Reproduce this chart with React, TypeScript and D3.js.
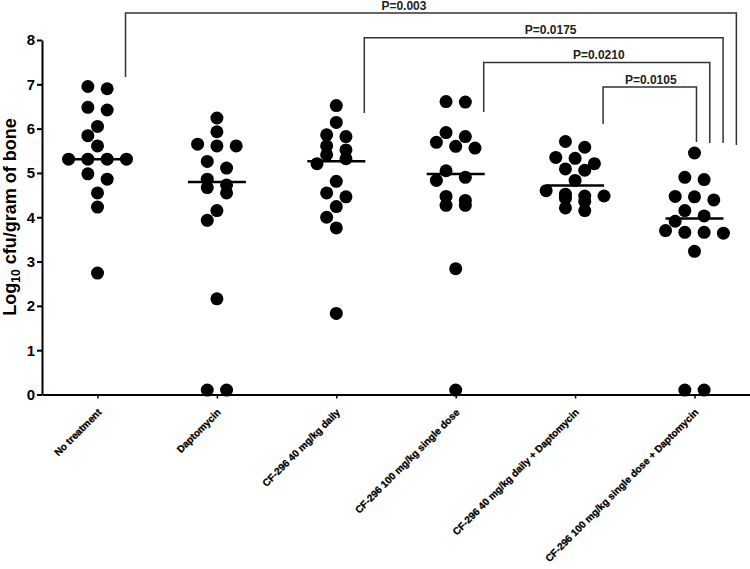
import React, { useEffect, useRef } from "react";
import * as d3 from "d3";

// group names (x axis)
const groups = [
  "No treatment",
  "Daptomycin",
  "CF-296 40 mg/kg daily",
  "CF-296 100 mg/kg single dose",
  "CF-296 40 mg/kg daily + Daptomycin",
  "CF-296 100 mg/kg single dose + Daptomycin",
];

// log10 cfu / gram of bone, one array per group
const noTreatment = [6.95, 6.9, 6.48, 6.42, 6.05, 5.84, 5.61, 5.31, 5.31, 5.31, 5.31, 4.98, 4.86, 4.55, 4.23, 2.74];
const daptomycin = [6.24, 5.93, 5.65, 5.61, 5.61, 5.26, 5.11, 4.86, 4.73, 4.67, 4.55, 4.15, 3.93, 2.16, 0.1, 0.1];
const cf40Daily = [6.52, 6.14, 5.86, 5.82, 5.61, 5.52, 5.41, 5.32, 5.21, 4.81, 4.55, 4.46, 4.24, 4.0, 3.76, 1.83];
const cf100Single = [6.61, 6.6, 5.91, 5.82, 5.69, 5.6, 5.56, 5.05, 4.9, 4.83, 4.47, 4.38, 4.27, 4.27, 2.84, 0.1];
const cf40DailyDapto = [5.71, 5.58, 5.35, 5.33, 5.21, 5.09, 5.06, 4.83, 4.6, 4.52, 4.48, 4.48, 4.43, 4.36, 4.21, 4.15];
const cf100SingleDapto = [5.45, 4.9, 4.85, 4.47, 4.46, 4.39, 4.15, 4.03, 3.91, 3.7, 3.66, 3.66, 3.64, 3.23, 0.1, 0.1];

const seriesValues = [noTreatment, daptomycin, cf40Daily, cf100Single, cf40DailyDapto, cf100SingleDapto];

const yTicks = [0, 1, 2, 3, 4, 5, 6, 7, 8];

// significance brackets (group index -> group index)
const comparisons = [
  { from: 0, to: 5, label: "P=0.003" },
  { from: 2, to: 5, label: "P=0.0175" },
  { from: 3, to: 5, label: "P=0.0210" },
  { from: 4, to: 5, label: "P=0.0105" },
];

const FONT = "'Liberation Sans', Arial, Helvetica, sans-serif";
const R = 6.5;

// simple column-scatter layout: points with nearly equal values sit in one row
function swarm(values: number[], y: (v: number) => number, spacing: number) {
  const sorted = [...values].sort((a, b) => b - a);
  const placed: { v: number; dx: number }[] = [];
  let i = 0;
  while (i < sorted.length) {
    const row = [sorted[i]];
    let j = i + 1;
    while (j < sorted.length && y(sorted[j]) - y(sorted[i]) <= 7) {
      row.push(sorted[j]);
      j++;
    }
    if (row.length > 1) {
      row.forEach((v, k) => placed.push({ v, dx: (k - (row.length - 1) / 2) * spacing }));
    } else {
      const v = row[0];
      const h = spacing / 2;
      const cands = [0, -h, h, -2 * h, 2 * h, -3 * h, 3 * h];
      let dx = 0;
      for (const c of cands) {
        const hit = placed.some((p) => Math.hypot(p.dx - c, y(p.v) - y(v)) < 11.5);
        if (!hit) { dx = c; break; }
      }
      placed.push({ v, dx });
    }
    i = j;
  }
  return placed;
}

export default function App() {
  const ref = useRef<SVGSVGElement>(null);

  useEffect(() => {
    const svg = d3.select(ref.current);
    svg.selectAll("*").remove();

    const y = d3.scaleLinear().domain([0, 8]).range([394.5, 40]);
    const x = d3.scalePoint<string>().domain(groups).range([42, 750]).padding(0.465);

    // y axis
    const gy = svg.append("g")
      .attr("transform", "translate(42,0)")
      .call(d3.axisLeft(y).tickValues(yTicks).tickFormat(d3.format("d")).tickSize(5).tickSizeOuter(0).tickPadding(2));
    gy.select(".domain").attr("stroke", "#000").attr("stroke-width", 2);
    gy.selectAll(".tick line").attr("stroke", "#000").attr("stroke-width", 2);
    gy.selectAll(".tick text")
      .attr("fill", "#000")
      .style("font-family", FONT)
      .style("font-weight", "bold")
      .style("font-size", "15px");

    // x axis
    const gx = svg.append("g")
      .attr("transform", "translate(0,394.5)")
      .call(d3.axisBottom(x).tickSize(4).tickSizeOuter(0));
    gx.select(".domain").attr("stroke", "#000").attr("stroke-width", 2);
    gx.selectAll(".tick line").attr("stroke", "#000").attr("stroke-width", 1.5);
    gx.selectAll(".tick text")
      .attr("x", 0)
      .attr("y", 0)
      .attr("dy", 0)
      .attr("fill", "#000")
      .attr("stroke", "#000")
      .attr("stroke-width", 0.3)
      .attr("text-anchor", "end")
      .attr("transform", "translate(4,18.5) rotate(-45)")
      .style("font-family", FONT)
      .style("font-weight", "bold")
      .style("font-size", "10px");

    // y axis title
    const title = svg.append("text")
      .attr("transform", "translate(16,217) rotate(-90)")
      .attr("text-anchor", "middle")
      .style("font-family", FONT)
      .style("font-weight", "bold")
      .style("font-size", "18px")
      .attr("fill", "#000");
    title.append("tspan").text("Log");
    title.append("tspan").attr("dy", 4).style("font-size", "12px").text("10");
    title.append("tspan").attr("dy", -4).text(" cfu/gram of bone");

    // points and medians
    seriesValues.forEach((vals, gi) => {
      const cx = x(groups[gi]) as number;
      const pts = swarm(vals, y, 19.3);
      svg.append("g")
        .selectAll("circle")
        .data(pts)
        .enter().append("circle")
        .attr("cx", (d) => cx + d.dx)
        .attr("cy", (d) => y(d.v))
        .attr("r", R)
        .attr("fill", "#000");

      const med = d3.median(vals) as number;
      svg.append("line")
        .attr("x1", cx - 29)
        .attr("x2", cx + 29)
        .attr("y1", y(med))
        .attr("y2", y(med))
        .attr("stroke", "#000")
        .attr("stroke-width", 2.5);
    });

    // brackets
    const leftBottom = [77, 113, 112, 124];
    const rightBottom = [145, 143, 143, 142];
    const labelShift = [-27, 7, 2, 1];
    comparisons.forEach((c, i) => {
      const barY = 13 + i * 24.7;
      const xl = (x(groups[c.from]) as number) + 28;
      const xr = (x(groups[c.to]) as number) + 2 + (3 - i) * 13.3;
      svg.append("path")
        .attr("d", `M${xl},${leftBottom[i]}V${barY}H${xr}V${rightBottom[i]}`)
        .attr("fill", "none")
        .attr("stroke", "#333")
        .attr("stroke-width", 1.5);
      svg.append("text")
        .attr("x", (xl + xr) / 2 + labelShift[i])
        .attr("y", barY - 3.5)
        .attr("text-anchor", "middle")
        .style("font-family", FONT)
        .style("font-weight", "bold")
        .style("font-size", "12px")
        .attr("fill", "#222")
        .text(c.label);
    });
  }, []);

  return (
    <svg
      ref={ref}
      width={750}
      height={569}
      style={{ position: "absolute", left: 0, top: 0, background: "#fff" }}
    />
  );
}
